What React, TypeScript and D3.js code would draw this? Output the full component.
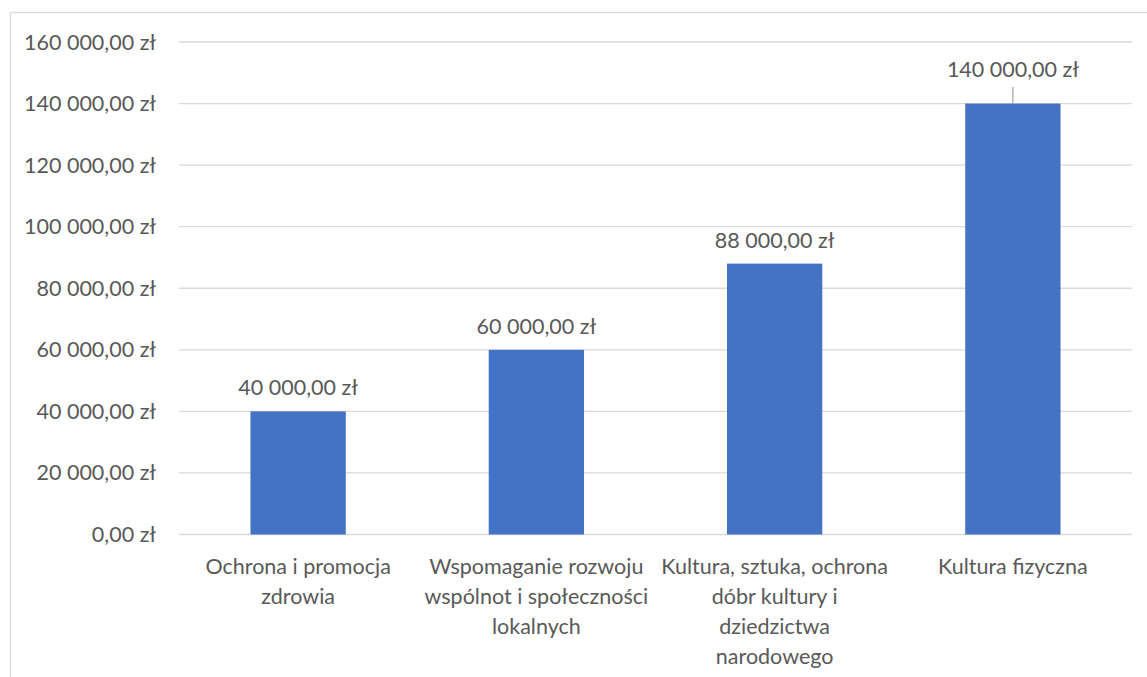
import React from "react";
import * as d3 from "d3";

const categories: string[][] = [
  ["Ochrona i promocja", "zdrowia"],
  ["Wspomaganie rozwoju", "wspólnot i społeczności", "lokalnych"],
  ["Kultura, sztuka, ochrona", "dóbr kultury i", "dziedzictwa", "narodowego"],
  ["Kultura fizyczna"],
];
const values: number[] = [40000, 60000, 88000, 140000];
const yTicks: number[] = [0, 20000, 40000, 60000, 80000, 100000, 120000, 140000, 160000];
const leaderLabelIndex = 3;

const W = 1147;
const H = 677;
const plot = { left: 179, right: 1132, top: 42, bottom: 534.5 };
const FONT = "Lato, 'Open Sans', 'Noto Sans', sans-serif";
const FS = 21.5;
const TEXT = "#595959";
const GRID = "#d9d9d9";
const BAR = "#4472C4";

const pl = d3.formatLocale({
  decimal: ",",
  thousands: " ",
  grouping: [3],
  currency: ["", " zł"],
});
const fmt = pl.format("$,.2f");

export default function App() {
  const x = d3
    .scaleBand<number>()
    .domain(d3.range(categories.length))
    .range([plot.left, plot.right])
    .paddingInner(0.6)
    .paddingOuter(0.3);
  const y = d3.scaleLinear().domain([0, 160000]).range([plot.bottom, plot.top]);

  return (
    <svg
      width={W}
      height={H}
      style={{ position: "absolute", left: 0, top: 0, background: "#fff" }}
      fontFamily={FONT}
    >
      <rect x={10.5} y={12.5} width={1300} height={800} fill="#fff" stroke={GRID} strokeWidth={1.3} />
      {yTicks.map((t) => (
        <g key={t}>
          <line x1={plot.left} x2={plot.right} y1={y(t)} y2={y(t)} stroke={GRID} strokeWidth={1.3} />
          <text x={156} y={y(t) + 7.5} textAnchor="end" fontSize={FS} fill={TEXT}>
            {fmt(t)}
          </text>
        </g>
      ))}
      {values.map((v, i) => {
        const bx = x(i)!;
        const cx = bx + x.bandwidth() / 2;
        const top = y(v);
        const isLeader = i === leaderLabelIndex;
        const base = isLeader ? top - 26.3 : top - 16;
        return (
          <g key={i}>
            <rect x={bx} y={top} width={x.bandwidth()} height={y(0) - top} fill={BAR} />
            {isLeader && (
              <line x1={cx} x2={cx} y1={top - 16.5} y2={top} stroke="#a6a6a6" strokeWidth={1.3} />
            )}
            <text x={cx} y={base} textAnchor="middle" fontSize={FS} fill={TEXT}>
              {fmt(v)}
            </text>
          </g>
        );
      })}
      {categories.map((lines, i) => {
        const cx = x(i)! + x.bandwidth() / 2;
        return (
          <text key={i} x={cx} y={573.5} textAnchor="middle" fontSize={FS} fill={TEXT}>
            {lines.map((l, j) => (
              <tspan key={j} x={cx} dy={j === 0 ? 0 : 30}>
                {l}
              </tspan>
            ))}
          </text>
        );
      })}
    </svg>
  );
}
